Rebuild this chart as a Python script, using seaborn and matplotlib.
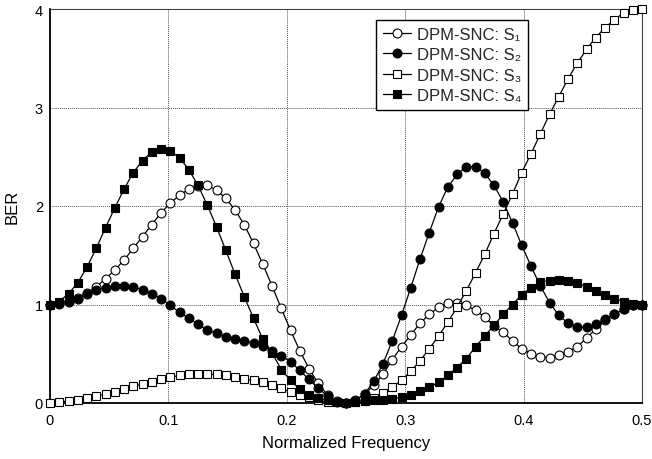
import numpy as np
import pandas as pd
import matplotlib
matplotlib.use("Agg")
import matplotlib.pyplot as plt
import seaborn as sns

# normalized frequency grid (65 points, step 1/128)
freq = [k / 128 for k in range(65)]

s1 = [1.00, 1.02, 1.04, 1.07, 1.12, 1.18, 1.26, 1.35, 1.45, 1.57, 1.69, 1.81, 1.93, 2.03, 2.11, 2.17,
      2.20, 2.21, 2.16, 2.08, 1.96, 1.81, 1.62, 1.41, 1.19, 0.96, 0.74, 0.53, 0.35, 0.20, 0.08, 0.02,
      0.00, 0.03, 0.09, 0.18, 0.29, 0.44, 0.57, 0.69, 0.81, 0.90, 0.97, 1.02, 1.02, 0.99, 0.94, 0.87,
      0.78, 0.72, 0.63, 0.55, 0.50, 0.47, 0.46, 0.49, 0.52, 0.57, 0.66, 0.75, 0.84, 0.90, 0.95, 0.99, 1.00]
s2 = [1.00, 1.01, 1.03, 1.06, 1.11, 1.15, 1.17, 1.19, 1.19, 1.18, 1.15, 1.11, 1.06, 0.99, 0.92, 0.86,
      0.80, 0.74, 0.71, 0.67, 0.65, 0.63, 0.61, 0.58, 0.53, 0.48, 0.42, 0.33, 0.24, 0.15, 0.07, 0.01,
      0.00, 0.02, 0.09, 0.22, 0.40, 0.63, 0.89, 1.17, 1.46, 1.73, 1.99, 2.19, 2.32, 2.40, 2.40, 2.33,
      2.21, 2.04, 1.83, 1.60, 1.39, 1.19, 1.02, 0.89, 0.81, 0.77, 0.77, 0.80, 0.85, 0.90, 0.95, 0.99, 1.00]
s3 = [0.00, 0.01, 0.02, 0.03, 0.05, 0.07, 0.09, 0.11, 0.14, 0.17, 0.19, 0.21, 0.24, 0.26, 0.28, 0.29,
      0.29, 0.29, 0.29, 0.28, 0.26, 0.24, 0.23, 0.21, 0.18, 0.15, 0.11, 0.08, 0.06, 0.03, 0.01, 0.01,
      0.00, 0.01, 0.02, 0.05, 0.10, 0.16, 0.23, 0.32, 0.43, 0.55, 0.68, 0.82, 0.97, 1.14, 1.32, 1.51,
      1.72, 1.92, 2.12, 2.34, 2.53, 2.73, 2.93, 3.11, 3.29, 3.45, 3.59, 3.71, 3.81, 3.89, 3.96, 3.99, 4.00]
s4 = [1.00, 1.03, 1.11, 1.22, 1.38, 1.57, 1.78, 1.98, 2.17, 2.34, 2.46, 2.55, 2.58, 2.56, 2.49, 2.37,
      2.21, 2.01, 1.79, 1.55, 1.31, 1.08, 0.86, 0.65, 0.51, 0.34, 0.23, 0.14, 0.08, 0.05, 0.03, 0.01,
      0.00, 0.01, 0.02, 0.03, 0.03, 0.04, 0.06, 0.08, 0.12, 0.16, 0.21, 0.28, 0.36, 0.45, 0.57, 0.68,
      0.79, 0.90, 1.00, 1.10, 1.17, 1.23, 1.24, 1.25, 1.24, 1.22, 1.18, 1.14, 1.10, 1.06, 1.03, 1.01, 1.00]

labels = ["DPM-SNC: S\u2081", "DPM-SNC: S\u2082", "DPM-SNC: S\u2083", "DPM-SNC: S\u2084"]
x_ticks = [0, 0.1, 0.2, 0.3, 0.4, 0.5]
x_ticklabels = ["0", "0.1", "0.2", "0.3", "0.4", "0.5"]
y_ticks = [0, 1, 2, 3, 4]

df = pd.concat([
    pd.DataFrame({"freq": freq, "ber": vals, "series": lab})
    for vals, lab in zip([s1, s2, s3, s4], labels)
], ignore_index=True)

sns.set_theme(style="white")
plt.rcParams['font.family'] = ['Liberation Sans', 'DejaVu Sans']

fig = plt.figure(figsize=(6.52, 4.60), dpi=100)
ax = fig.add_axes([50/652, 1 - 404/460, 592/652, 394/460])

styles = {
    labels[0]: dict(marker="o", markerfacecolor="white"),
    labels[1]: dict(marker="o", markerfacecolor="black"),
    labels[2]: dict(marker="s", markerfacecolor="white"),
    labels[3]: dict(marker="s", markerfacecolor="black"),
}
for lab in labels:
    sub = df[df["series"] == lab]
    st = styles[lab]
    sns.lineplot(data=sub, x="freq", y="ber", ax=ax, color="black", linewidth=0.9,
                 marker=st["marker"], markersize=6.4 if st["marker"] == "o" else 6.0,
                 markerfacecolor=st["markerfacecolor"], markeredgecolor="black",
                 markeredgewidth=0.8, label=lab, clip_on=False, zorder=3)

ax.set_xlim(0, 0.5)
ax.set_ylim(0, 4)
ax.set_xticks(x_ticks)
ax.set_xticklabels(x_ticklabels)
ax.set_yticks(y_ticks)
ax.set_xticks([0.05, 0.15, 0.25, 0.35, 0.45], minor=True)
ax.set_yticks([0.5, 1.5, 2.5, 3.5], minor=True)
ax.tick_params(axis="both", which="both", direction="in", labelsize=10.5, colors="black",
               top=False, right=False)
ax.tick_params(axis="both", which="major", length=4, width=0.8, pad=7)
ax.tick_params(axis="both", which="minor", length=3, width=0.8)
ax.tick_params(axis="y", pad=5)

ax.grid(True, which="major", linestyle=(0, (1, 1)), color="#555555", linewidth=0.7)
ax.set_axisbelow(True)

for side in ["left", "bottom"]:
    ax.spines[side].set_color("black")
    ax.spines[side].set_linewidth(1.3)
for side in ["top", "right"]:
    ax.spines[side].set_color("#444444")
    ax.spines[side].set_linewidth(0.8)

ax.set_xlabel("Normalized Frequency", fontsize=12, labelpad=6, color="black")
ax.set_ylabel("BER", fontsize=12, labelpad=11, color="black")

leg = ax.legend(loc="upper left", bbox_to_anchor=((376-50)/592, (404-21)/394),
                borderaxespad=0, frameon=True, fancybox=False, edgecolor="black",
                fontsize=12, handlelength=1.7, handletextpad=0.35, labelspacing=0.33,
                borderpad=0.4)
leg.get_frame().set_linewidth(1.0)
leg.get_frame().set_facecolor("white")
leg.get_frame().set_alpha(1)
leg.set_zorder(5)

fig.savefig("out.png", dpi=100)
